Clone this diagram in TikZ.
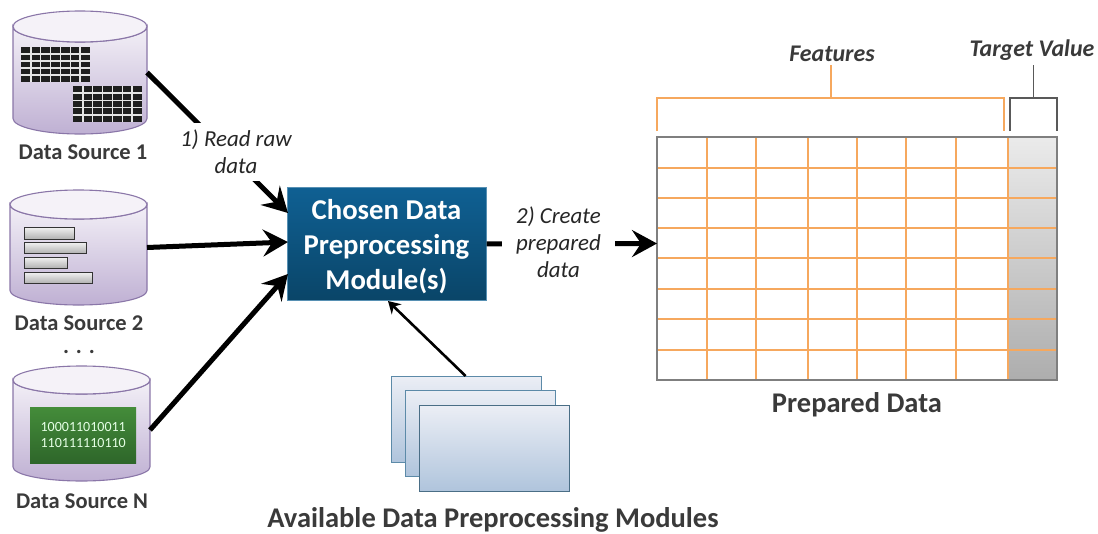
\documentclass[tikz,border=0pt]{standalone}
\usepackage{fontspec}
\setmainfont{Carlito}
\usetikzlibrary{arrows.meta,calc}
\definecolor{cylline}{HTML}{8A76A8}
\definecolor{cyltop}{HTML}{F3F0F7}
\definecolor{cylbot}{HTML}{BFB0D3}
\definecolor{txt}{HTML}{3A3A3A}
\definecolor{boxtop}{HTML}{0F6093}
\definecolor{boxbot}{HTML}{0A4568}
\definecolor{orangeline}{HTML}{F6A85E}
\definecolor{tabline}{HTML}{7F7F7F}
\definecolor{modline}{HTML}{5C8AA8}
\definecolor{modtop}{HTML}{EBEEF5}
\definecolor{modbot}{HTML}{AFC4DC}
\definecolor{bittop}{HTML}{448C3A}
\definecolor{bitbot}{HTML}{2E662A}
\tikzset{
  anchorbox/.style={inner sep=0pt,outer sep=0pt,draw=none},
  srclabel/.style={font=\fontsize{22.5}{26}\selectfont\bfseries,text=txt,inner sep=0pt},
  steplabel/.style={font=\fontsize{22.9}{27}\selectfont\itshape,text=black!85,align=center,fill=white,inner sep=0pt},
  headlabel/.style={font=\fontsize{23.9}{28}\selectfont\bfseries\itshape,text=txt,inner sep=0pt},
  biglabel/.style={font=\fontsize{28.5}{32}\selectfont\bfseries,text=txt,inner sep=0pt},
  mainbox/.style={anchor=north west,inner sep=0pt,minimum width=199pt,minimum height=113pt,top color=boxtop,bottom color=boxbot,draw=boxtop!70!white,line width=.6pt},
  mainlabel/.style={inner sep=0pt,text=white,align=center,font=\fontsize{28.7}{35}\selectfont\bfseries},
  modbox/.style={anchor=north west,inner sep=0pt,minimum width=150pt,minimum height=86pt,top color=modtop,bottom color=modbot,draw=modline,line width=1.2pt},
  thick arrow/.style={line width=5pt,-{Stealth[length=25pt,width=27pt,inset=9pt]}},
  thin arrow/.style={line width=2.6pt,-{Stealth[length=12pt,width=14pt,inset=4pt]}},
  featline/.style={draw=orangeline,line width=1.3pt},
  targline/.style={draw=black!65,line width=1.3pt},
  gridline/.style={draw=orangeline,line width=1.1pt},
}
\newcommand{\cylshape}[5]{% left right top(ellipse top) ellipsebottom bottom
  \pgfmathsetmacro{\cx}{(#1+#2)/2}\pgfmathsetmacro{\rx}{(#2-#1)/2}
  \pgfmathsetmacro{\ry}{(#4-#3)/2}\pgfmathsetmacro{\cy}{(#3+#4)/2}
  \pgfmathsetmacro{\by}{#5-\ry}
  \draw[draw=cylline,line width=1.1pt,top color=cyltop,bottom color=cylbot]
    (#1,\cy) -- (#1,\by) arc[start angle=180,end angle=360,x radius=\rx,y radius=-\ry] -- (#2,\cy)
    arc[start angle=0,end angle=180,x radius=\rx,y radius=\ry] -- cycle;
  \draw[draw=cylline,line width=1.1pt,fill=cyltop!85!white] (\cx,\cy) ellipse[x radius=\rx,y radius=\ry];
}
\newcommand{\blackgrid}[4]{% x0 y0 x1 y1
  \fill[black!88] (#1,#2) rectangle (#3,#4);
  \foreach \i in {1,...,6}{\draw[white!90!black,line width=1.5pt] ({#1+\i*(#3-#1)/7},#2) -- ({#1+\i*(#3-#1)/7},#4);}
  \foreach \i in {1,...,4}{\draw[white!90!black,line width=1.5pt] (#1,{#2+\i*(#4-#2)/5}) -- (#3,{#2+\i*(#4-#2)/5});}
}
\newcommand{\greybar}[4]{%
  \draw[draw=black!80,line width=1pt,top color=black!5,bottom color=black!30] (#1,#2) rectangle (#3,#4);
}
\begin{document}
\begin{tikzpicture}[x=1pt,y=-1pt]
\useasboundingbox (0,0) rectangle (1098,533);

% cylinders
\cylshape{13}{147}{11}{42}{134}
\cylshape{10}{147}{190}{219}{305}
\cylshape{13}{150}{366}{394}{481}
\node[anchorbox,minimum width=134pt,minimum height=123pt] (src1) at (80,72.5) {};
\node[anchorbox,minimum width=137pt,minimum height=115pt] (src2) at (78.5,247.5) {};
\node[anchorbox,minimum width=137pt,minimum height=115pt] (srcN) at (81.5,430) {};

% cylinder contents
\blackgrid{21}{47}{90}{82}
\blackgrid{73}{86}{142}{122}
\greybar{24}{227}{74}{239}
\greybar{24}{242}{86}{253}
\greybar{24}{257}{67}{268}
\greybar{24}{272}{92}{283}
\node[anchor=north west,inner sep=0pt,minimum width=106pt,minimum height=56pt,top color=bittop,bottom color=bitbot,
  text=white!90!green,align=center,font=\fontsize{14}{16}\selectfont] (bits) at (30,407) {100011010011\\110111110110};

% source labels
\node[srclabel] (l1) at (83,152.5) {Data Source 1};
\node[srclabel] (l2) at (79,323.5) {Data Source 2};
\node[srclabel,anchor=base,text height=4pt,text depth=0pt] (ld) at (79,353) {. . .};
\node[srclabel] (lN) at (82,501.5) {Data Source N};

% main box and targets
\node[mainbox] (box) at (287,187) {};
\node[mainlabel] (boxtext) at (386.5,247) {Chosen Data\\Preprocessing\\Module(s)};
\coordinate (in1) at (288,213);
\coordinate (in2) at (288,242);
\coordinate (in3) at (288,274);
\coordinate (up) at (388,301);

% table
\shade[top color=black!8,bottom color=black!32] (1008,137) rectangle (1057,380);
\node[anchorbox,anchor=north west,minimum width=400pt,minimum height=243pt] (table) at (657,137) {};
\coordinate (tin) at (657,243.5);
\foreach \x in {707,756,808,857,906,956,1008}{\draw[gridline] (\x,137) -- (\x,380);}
\foreach \y in {168,198,228,258,289,319,350}{\draw[gridline] (657,\y) -- (1057,\y);}
\draw[draw=tabline,line width=1.4pt] (657,137) rectangle (1057,380);

% connectors
\draw[thick arrow] (src1.east) -- (in1);
\draw[thick arrow] (src2.east) -- (in2);
\draw[thick arrow] (srcN.east) -- (in3);
\draw[thick arrow] (box.east) -- (tin);
\node[steplabel,minimum width=128pt,minimum height=58pt] (step1) at (236,152) {1) Read raw\\data};
\node[steplabel,minimum width=113pt,minimum height=62pt] (step2) at (558.5,242) {2) Create\\prepared\\data};

% modules
\node[modbox] (m1) at (391,376) {};
\node[modbox] (m2) at (405,390) {};
\node[modbox,draw=modline!80!black] (m3) at (419,405) {};
\draw[thin arrow] (m1.north) ++(-1,0) coordinate (mstart) (mstart) -- (up);

% brackets
\coordinate (f0) at (831,65);
\coordinate (f1) at (831,98);
\coordinate (t0) at (1033.5,65);
\coordinate (t1) at (1033.5,98);
\draw[featline] (657,131) -- (657,98) -- (1004,98) -- (1004,131);
\draw[featline] (f0) -- (f1);
\draw[targline] (1010,131) -- (1010,98) -- (1057,98) -- (1057,131);
\draw[targline] (t0) -- (t1);

\node[headlabel] (feat) at (832,54) {Features};
\node[headlabel] (targ) at (1032,50) {Target Value};
\node[biglabel] (prep) at (857,405) {Prepared Data};
\node[biglabel] (avail) at (493,520) {Available Data Preprocessing Modules};
\end{tikzpicture}
\end{document}
